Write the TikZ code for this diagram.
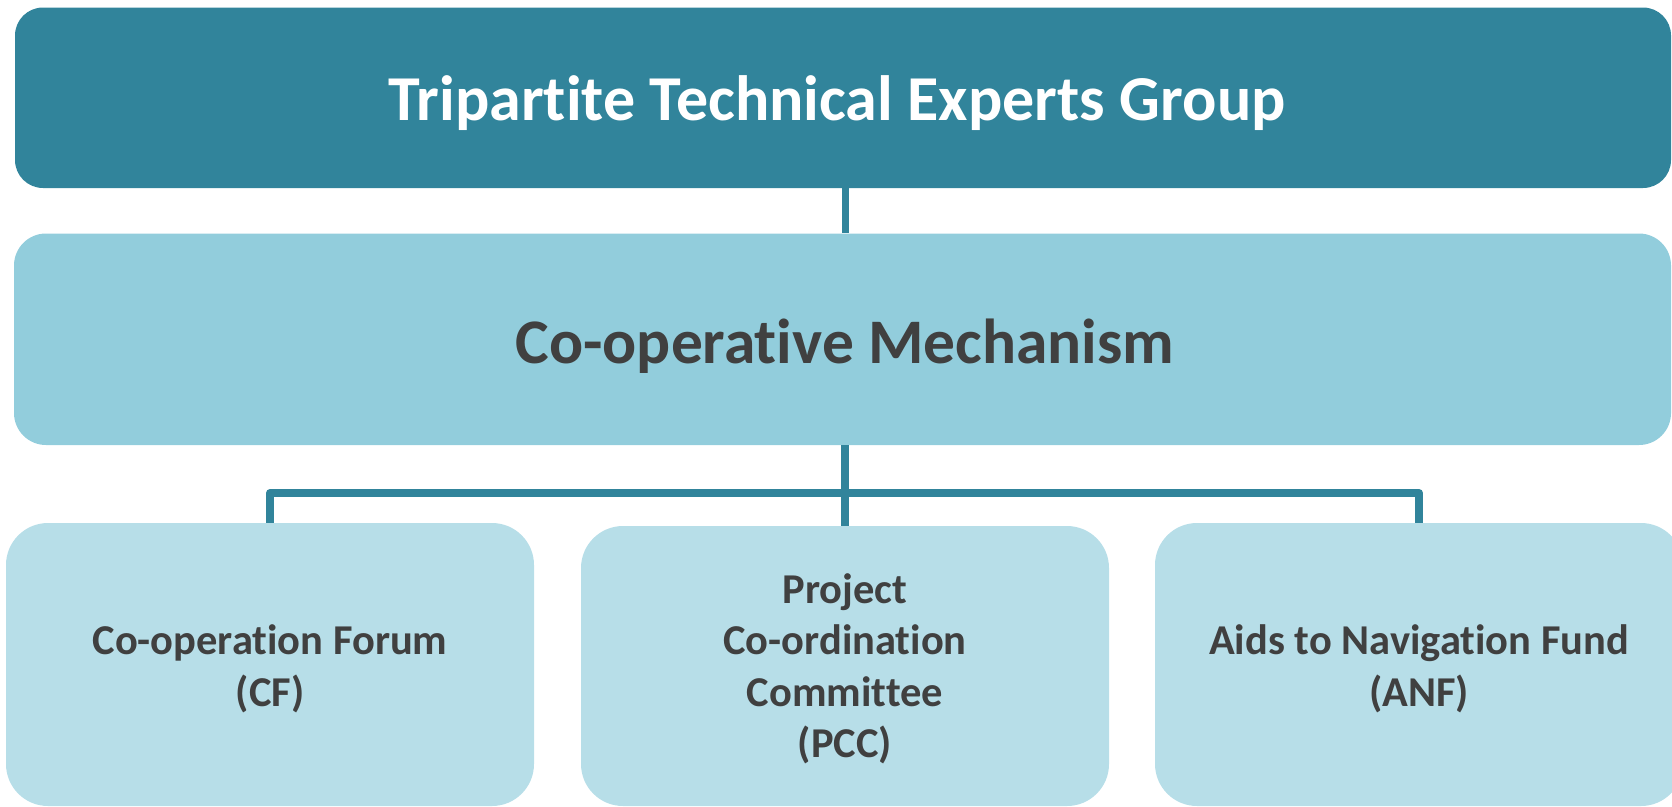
\documentclass[tikz,border=0pt]{standalone}
\usepackage{fontspec}
\setmainfont{Carlito}[Ligatures=NoCommon]
\definecolor{tealdark}{HTML}{31849B}
\definecolor{tealmid}{HTML}{92CDDC}
\definecolor{teallight}{HTML}{B7DEE8}
\definecolor{txtgray}{HTML}{404040}
\begin{document}
\begin{tikzpicture}[x=1pt,y=-1pt,
  boxbase/.style={rectangle, draw=none, inner sep=0pt},
  topbox/.style={boxbase, fill=tealdark, rounded corners=28pt},
  midbox/.style={boxbase, fill=tealmid, rounded corners=32pt},
  lowbox/.style={boxbase, fill=teallight, rounded corners=42pt, minimum width=528pt},
  toptext/.style={inner sep=0pt, text=white, anchor=base,
    font=\fontsize{64}{77}\selectfont\bfseries},
  midtext/.style={inner sep=0pt, text=txtgray, anchor=base,
    font=\fontsize{63.5}{76}\selectfont\bfseries},
  lowtext/.style={inner sep=0pt, text=txtgray, align=center,
    font=\fontsize{42.5}{51.5}\selectfont\bfseries},
  conn/.style={draw=tealdark, line width=8pt, line join=round, line cap=butt}
]
\useasboundingbox (0,0) rectangle (1672,806);
\clip (0,0) rectangle (1672,806);

\node[topbox, minimum width=1656pt, minimum height=180.5pt] (top) at (843,97.75) {};
\node[toptext] (toplabel) at (837,120) {Tripartite Technical Experts Group};

\node[midbox, minimum width=1657pt, minimum height=211.5pt] (mid) at (842.5,339.25) {};
\node[midtext] (midlabel) at (845,363) {Co-operative Mechanism};

\node[lowbox, minimum height=283pt] (cf) at (270,664.5) {};
\node[lowbox, minimum height=280pt] (pcc) at (845,666) {};
\node[lowbox, minimum height=283pt] (anf) at (1419,664.5) {};

\node[lowtext] (cflabel) at ([yshift=-4.5pt]cf.center) {Co-operation Forum\\(CF)};
\node[lowtext] (pcclabel) at ([yshift=-3pt]pcc.center) {Project\\Co-ordination\\Committee\\(PCC)};
\node[lowtext] (anflabel) at ([yshift=-4.5pt]anf.center) {Aids to Navigation Fund\\(ANF)};

\coordinate (bus) at (845,493);
\draw[conn, line width=7pt] (top.south -| pcc.north) -- (mid.north -| pcc.north);
\draw[conn] (mid.south -| pcc.north) -- (pcc.north);
\draw[conn] (cf.north) |- (bus) -| (anf.north);
\end{tikzpicture}
\end{document}
